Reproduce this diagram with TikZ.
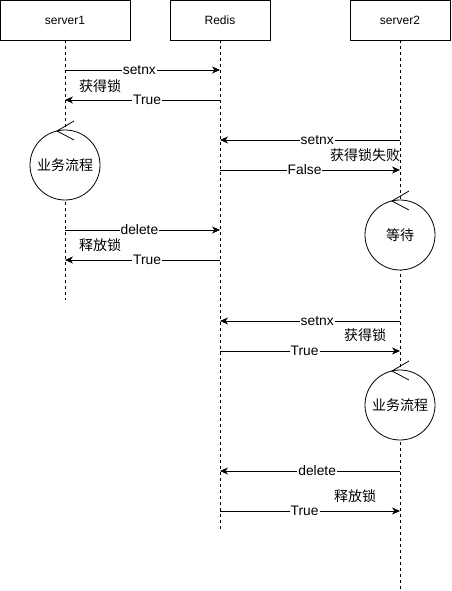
\documentclass[tikz,border=0pt]{standalone}
\usepackage{fontspec}
\setmainfont{Liberation Sans}
\newfontfamily\cjk{Noto Sans CJK SC}
\usetikzlibrary{arrows.meta}
\begin{document}
\begin{tikzpicture}[x=1pt,y=-1pt,
  actor/.style={draw,line width=0.8pt,minimum width=#1,minimum height=40pt,inner sep=0pt,font=\fontsize{12}{14}\selectfont},
  life/.style={line width=0.8pt,dash pattern=on 3pt off 3pt},
  msg/.style={line width=0.8pt,-{Stealth[length=8pt,width=7pt,inset=2.5pt]}},
  lbl/.style={fill=white,inner sep=1pt,font=\fontsize{13.8}{15}\selectfont},
  note/.style={inner sep=0pt,font=\cjk\fontsize{14}{16}\selectfont},
  ctrl/.style={draw,fill=white,circle,line width=0.8pt,minimum size=70pt,inner sep=0pt,font=\cjk\fontsize{14}{16}\selectfont},
]
\useasboundingbox (0,0) rectangle (451,591);
% actors
\node[actor=130pt] (s1) at (65,20) {server1};
\node[actor=100pt] (rd) at (220,20) {Redis};
\node[actor=100pt] (s2) at (400,20) {server2};
% lifeline ends
\coordinate (s1end) at (65,300);
\coordinate (rdend) at (220,530);
\coordinate (s2end) at (400,590);
\draw[life] (s1.south) -- (s1end);
\draw[life] (rd.south) -- (rdend);
\draw[life] (s2.south) -- (s2end);
% control circles
\newcommand{\ctrlmark}[1]{\draw[line width=0.8pt] ([shift={(9,-44)}]#1.center) -- ([shift={(-8,-34)}]#1.center) -- ([shift={(9,-25)}]#1.center);}
\node[ctrl] (c1) at (65,165) {业务流程};
\ctrlmark{c1}
\node[ctrl] (c2) at (400,235) {等待};
\ctrlmark{c2}
\node[ctrl] (c3) at (400,405) {业务流程};
\ctrlmark{c3}
% message endpoints
\foreach \y in {70,100,230,260} {
  \coordinate (a\y) at (65,\y);
  \coordinate (b\y) at (220,\y);
}
\foreach \y in {140,170,321,351,471,511} {
  \coordinate (b\y) at (220,\y);
  \coordinate (c\y) at (400,\y);
}
% messages server1
\draw[msg] (a70) -- (b70) node[lbl,pos=0.48] {setnx};
\node[note] (n1) at (100,86) {获得锁};
\draw[msg] (b100) -- (a100) node[lbl,pos=0.47] {True};
\draw[msg] (a230) -- (b230) node[lbl,pos=0.48] {delete};
\node[note] (n2) at (100,245) {释放锁};
\draw[msg] (b260) -- (a260) node[lbl,pos=0.47] {True};
% messages server2
\draw[msg] (c140) -- (b140) node[lbl,pos=0.46] {setnx};
\node[note] (n3) at (365,155) {获得锁失败};
\draw[msg] (b170) -- (c170) node[lbl,pos=0.47] {False};
\draw[msg] (c321) -- (b321) node[lbl,pos=0.46] {setnx};
\node[note] (n4) at (365,335) {获得锁};
\draw[msg] (b351) -- (c351) node[lbl,pos=0.47] {True};
\draw[msg] (c471) -- (b471) node[lbl,pos=0.46] {delete};
\node[note] (n5) at (355,496) {释放锁};
\draw[msg] (b511) -- (c511) node[lbl,pos=0.47] {True};
\end{tikzpicture}
\end{document}
